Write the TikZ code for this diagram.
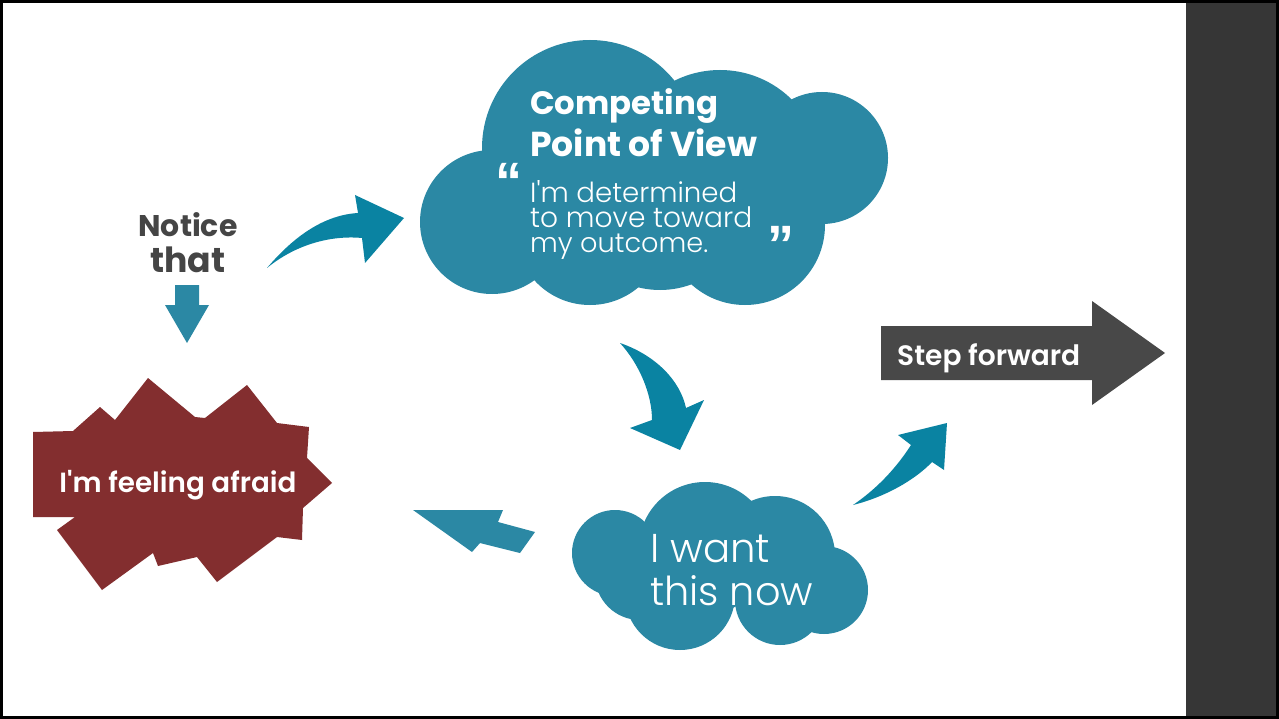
\documentclass[tikz,border=0pt]{standalone}
\usepackage{fontspec}
\setmainfont{Poppins}
\newfontfamily\lightfont{Poppins Light}
\newfontfamily\semifont{Poppins SemiBold}
\newfontfamily\quotefont{Liberation Sans}
\definecolor{cloudteal}{HTML}{2B88A4}
\definecolor{arrowteal}{HTML}{0A83A2}
\definecolor{fearred}{HTML}{832E2F}
\definecolor{stepgrey}{HTML}{484848}
\definecolor{panelgrey}{HTML}{363636}
\definecolor{noticegrey}{HTML}{454545}
% scale a piece of text to a given width
\newcommand\fitw[2]{\resizebox{#1}{!}{#2}}
\tikzset{
  txt/.style={anchor=base west, inner sep=0pt, text=white},
  ctxt/.style={anchor=base, inner sep=0pt},
  qmark/.style={anchor=north west, inner sep=0pt, text=white},
  bubble/.style={fill=cloudteal},
  bentarrow/.style={fill=arrowteal},
}
\begin{document}
\begin{tikzpicture}[x=1pt,y=-1pt]
\useasboundingbox (0,0) rectangle (1279,719);
% frame, slide and side panel
\fill[black] (0,0) rectangle (1279,719);
\fill[white] (3,3) rectangle (1186,716);
\fill[panelgrey] (1186,3) rectangle (1276,716);

% upper cloud
\begin{scope}[bubble]
  \fill (492,222) circle[radius=72pt];
  \fill (590,148) circle[radius=108pt];
  \fill (720,172) circle[radius=102pt];
  \fill (822,158) circle[radius=66pt];
  \fill (590,230) circle[radius=75pt];
  \fill (745,225) circle[radius=80pt];
  \fill (660,200) circle[radius=90pt];
\end{scope}
\node[txt] (cp1) at (530,115) {\bfseries\fitw{188pt}{Competing}};
\node[txt] (cp2) at (530,157) {\bfseries\fitw{227pt}{Point of View}};
\node[txt] (cq1) at (530,203) {\lightfont\fitw{207pt}{I'm determined}};
\node[txt] (cq2) at (530,228) {\lightfont\fitw{222pt}{to move toward}};
\node[txt] (cq3) at (530,253) {\lightfont\fitw{178pt}{my outcome.}};
\node[qmark] (qo) at (495,163) {\quotefont\bfseries\fitw{27pt}{“}};
\node[qmark] (qc) at (767,226) {\quotefont\bfseries\fitw{27pt}{”}};

% lower cloud
\begin{scope}[bubble]
  \fill (615,553) circle[radius=43pt];
  \fill (705,548) circle[radius=66pt];
  \fill (775,556) circle[radius=60pt];
  \fill (824,590) circle[radius=44pt];
  \fill (680,595) circle[radius=55pt];
  \fill (780,600) circle[radius=45pt];
  \fill (640,575) circle[radius=45pt];
\end{scope}
\node[txt] (w1) at (650,562) {\lightfont\fitw{120pt}{I want}};
\node[txt] (w2) at (650,605) {\lightfont\fitw{163pt}{this now}};

% jagged red shape
\fill[fearred] (33,432) -- (73,431) -- (100,407) -- (115,420) -- (148,378)
  -- (195,417) -- (205,418) -- (247,385) -- (277,423) -- (309,427)
  -- (307,458) -- (332,483) -- (303,508) -- (302,540) -- (277,537)
  -- (217,582) -- (197,557) -- (158,566) -- (153,553) -- (102,590)
  -- (57,530) -- (75,517) -- (33,517) -- cycle;
\node[ctxt, text=white] (fear) at (178,492) {\semifont\fitw{237pt}{I'm feeling afraid}};

% notice label and its arrow
\node[ctxt, text=noticegrey] (n1) at (188,237) {\bfseries\fitw{99pt}{Notice}};
\node[ctxt, text=noticegrey] (n2) at (188,273) {\bfseries\fitw{75pt}{that}};
\fill[cloudteal] (175,285) -- (199,285) -- (199,305) -- (209,305) -- (187,343)
  -- (165,305) -- (175,305) -- cycle;

% bent arrows between the parts
\fill[bentarrow] (267,268) .. controls (295,235) and (325,215) .. (358,213)
  -- (355,195) -- (404,218) -- (365,263) -- (362,238)
  .. controls (330,235) and (295,245) .. (267,268) -- cycle;
\fill[bentarrow] (620,343) .. controls (655,355) and (680,380) .. (686,408)
  -- (704,400) -- (680,450) -- (630,428) -- (652,420)
  .. controls (652,395) and (640,365) .. (620,343) -- cycle;
\fill[bentarrow] (853,505) .. controls (885,497) and (915,480) .. (932,462)
  -- (944,470) -- (947,423) -- (898,435) -- (911,445)
  .. controls (895,470) and (875,490) .. (853,505) -- cycle;
\fill[cloudteal] (413,510) -- (503,510) -- (498,522) -- (535,532) -- (520,553)
  -- (480,543) -- (472,552) -- cycle;

% step forward arrow
\fill[stepgrey] (881,326) -- (1092,326) -- (1092,301) -- (1165,353) -- (1092,405)
  -- (1092,380) -- (881,380) -- cycle;
\node[txt] (step) at (897,365) {\semifont\fitw{183pt}{Step forward}};
\end{tikzpicture}
\end{document}
